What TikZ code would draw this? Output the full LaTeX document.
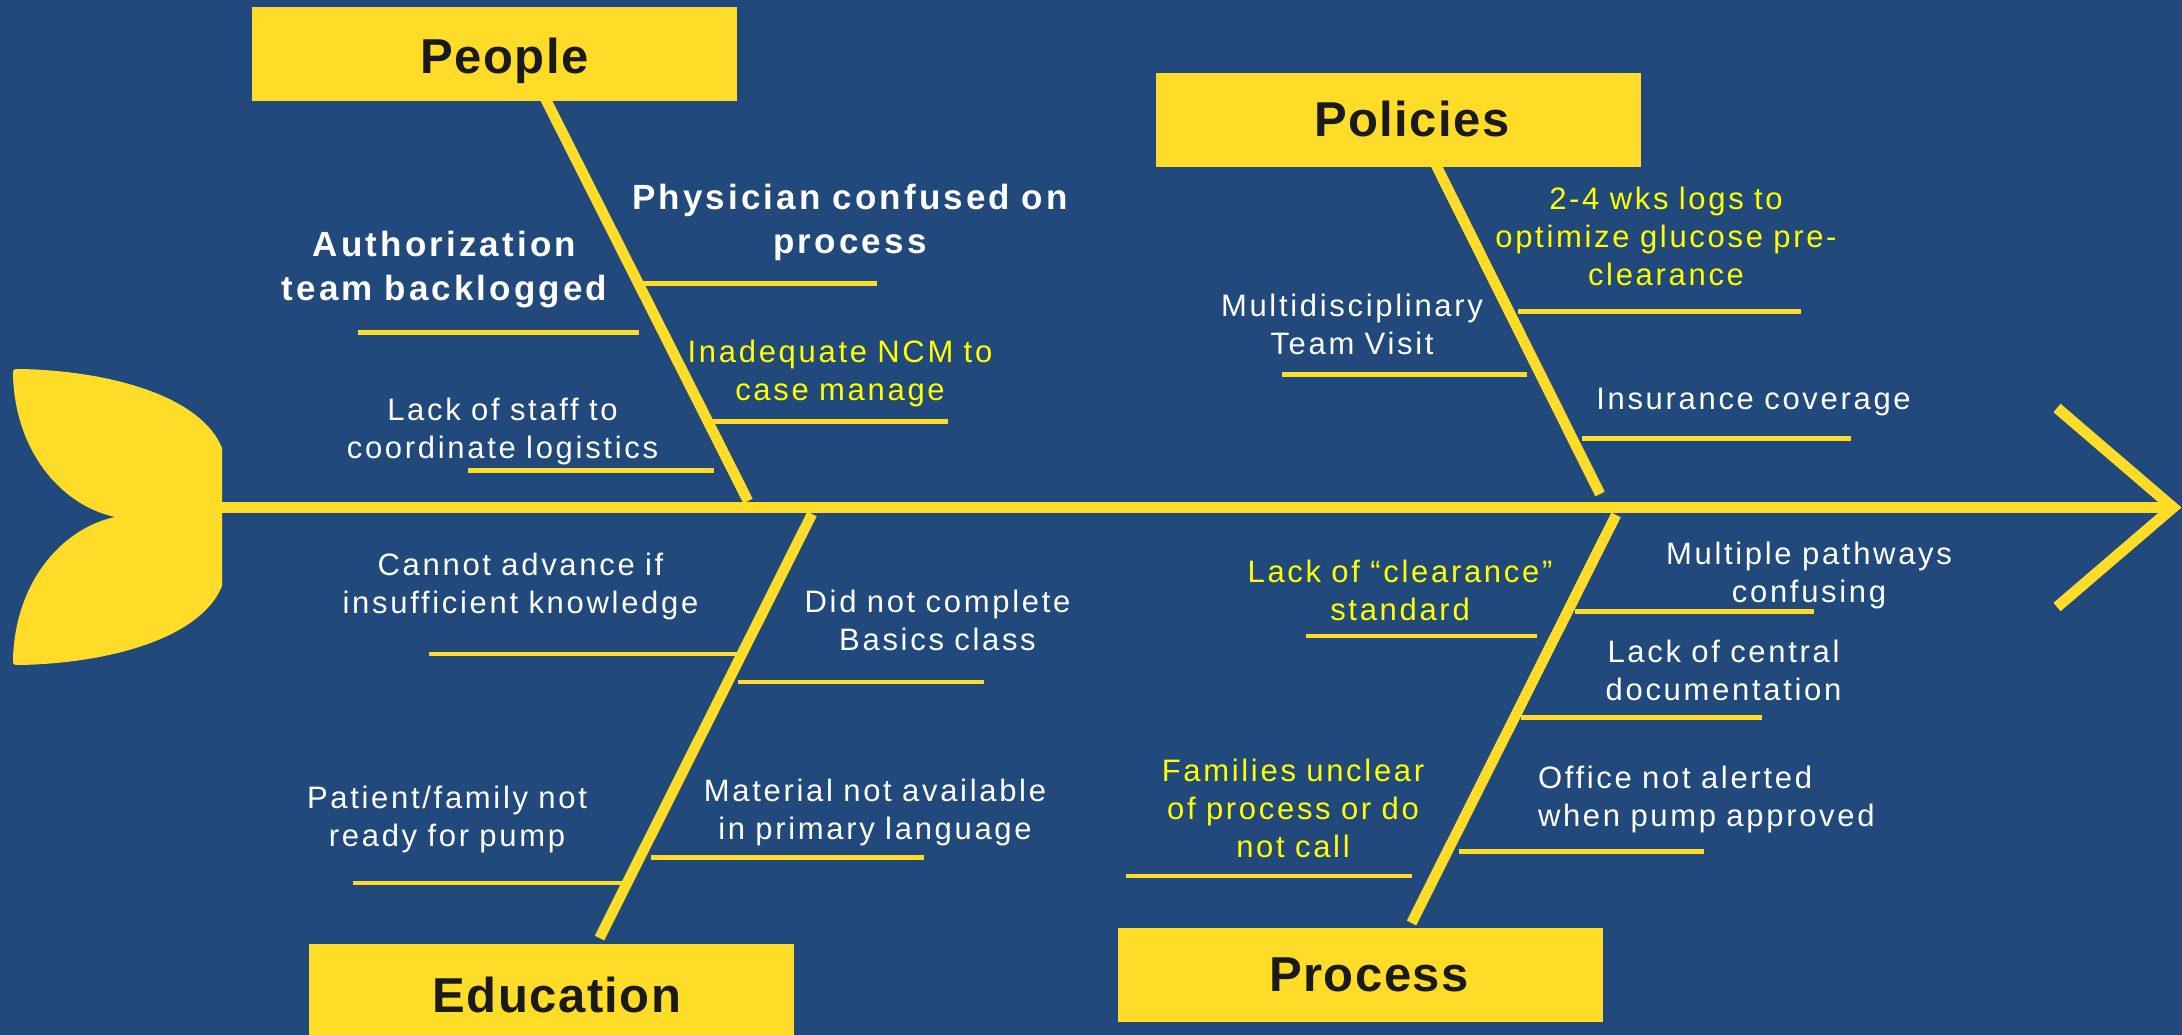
\documentclass[tikz,border=0pt]{standalone}
\usepackage{fontspec}
\setmainfont{Liberation Sans}
\newfontfamily\causefont[LetterSpace=8.7,Ligatures=NoCommon]{Liberation Sans}
\newfontfamily\keyfont[LetterSpace=9,Ligatures=NoCommon]{Liberation Sans}
\newfontfamily\headfont[LetterSpace=3]{Liberation Sans}
\definecolor{navy}{RGB}{33,73,123}
\definecolor{gold}{RGB}{255,220,40}
\definecolor{lemon}{RGB}{255,255,0}
\definecolor{ink}{RGB}{26,26,26}
\tikzset{
  spine/.style={draw=gold, line width=11pt},
  bone/.style={draw=gold, line width=10.5pt},
  twig/.style={draw=gold, line width=4.5pt},
  headbox/.style={fill=gold, draw=none, minimum width=485pt, minimum height=94pt,
    inner sep=0pt, anchor=north west},
  headtext/.style={font=\headfont\bfseries\fontsize{49}{58}\selectfont, text=ink,
    inner sep=0pt, anchor=base},
  cause/.style={font=\causefont\fontsize{31}{38}\selectfont, text=white,
    text width=560pt, align=center, inner sep=0pt, anchor=base},
  key/.style={cause, font=\keyfont\bfseries\fontsize{35}{44}\selectfont},
  hot/.style={cause, text=lemon},
}
\begin{document}
\begin{tikzpicture}[x=1pt, y=-1pt]
  % canvas
  \fill[navy] (0,0) rectangle (2182,1035);
  \useasboundingbox (0,0) rectangle (2182,1035);

  % ---- twigs (cause underlines) ----
  % People
  \draw[twig] (643,283.7) -- (877,283.7);
  \draw[twig] (358,332.7) -- (638.5,332.7);
  \draw[twig] (712,421.7) -- (948,421.7);
  \draw[twig] (468,470.7) -- (713.5,470.7);
  % Policies
  \draw[twig] (1517.6,311.7) -- (1801,311.7);
  \draw[twig] (1281.8,374.7) -- (1526.7,374.7);
  \draw[twig] (1581.8,438.7) -- (1850.7,438.7);
  % Education
  \draw[twig] (429,654) -- (739,654);
  \draw[twig] (738,682) -- (984,682);
  \draw[twig] (353,883) -- (621.8,883);
  \draw[twig] (651,857.7) -- (924,857.7);
  % Process
  \draw[twig] (1306,635.8) -- (1537,635.8);
  \draw[twig] (1574.5,611.6) -- (1814.3,611.6);
  \draw[twig] (1521.4,717.7) -- (1762.2,717.7);
  \draw[twig] (1125.5,875.8) -- (1412,875.8);
  \draw[twig] (1458.7,851.5) -- (1703.6,851.5);

  % ---- bones ----
  \coordinate (peopleRoot) at (544,96);
  \coordinate (peopleFoot) at (748,501);
  \coordinate (policyRoot) at (1434.5,162);
  \coordinate (policyFoot) at (1600,494);
  \coordinate (eduRoot) at (599.5,938);
  \coordinate (eduFoot) at (812,514);
  \coordinate (procRoot) at (1411.5,923);
  \coordinate (procFoot) at (1616,515);
  \draw[bone] (peopleRoot) -- (peopleFoot);
  \draw[bone] (policyRoot) -- (policyFoot);
  \draw[bone] (eduRoot) -- (eduFoot);
  \draw[bone] (procRoot) -- (procFoot);

  % ---- spine and head ----
  \coordinate (spineStart) at (222,507.5);
  \coordinate (spineTip) at (2173,507.5);
  \coordinate (armTop) at (2057,408);
  \coordinate (armBot) at (2057,607);
  \draw[spine] (spineStart) -- (spineTip);
  \draw[spine, line join=miter] (armTop) -- (spineTip) -- (armBot);

  % ---- tail ----
  \fill[gold] (115,517) .. controls (60,505) and (15,450) .. (13,375)
    .. controls (13,369) .. (20,369)
    .. controls (115,371) and (202,398) .. (222,448)
    -- (222,586)
    .. controls (202,636) and (115,663) .. (20,665)
    .. controls (13,665) .. (13,659)
    .. controls (15,584) and (60,529) .. (115,517) -- cycle;

  % ---- category boxes ----
  \node[headbox] (people) at (252,7) {};
  \node[headbox] (policies) at (1156,73) {};
  \node[headbox] (education) at (309,944) {};
  \node[headbox] (process) at (1118,928) {};
  \node[headtext] (peopleLbl) at (504.5,73.3) {People};
  \node[headtext] (policiesLbl) at (1412,136.7) {Policies};
  \node[headtext] (educationLbl) at (557,1012) {Education};
  \node[headtext] (processLbl) at (1369,991.5) {Process};

  % ---- causes: People ----
  \node[key] (physician) at (850,209.3) {Physician confused on\\process};
  \node[key] (authteam) at (444.5,256.7) {Authorization\\team backlogged};
  \node[hot] (ncm) at (840,362.7) {Inadequate NCM to\\case manage};
  \node[cause] (staff) at (502.5,420.7) {Lack of staff to\\coordinate logistics};

  % ---- causes: Policies ----
  \node[hot] (logs) at (1666,210) {2-4 wks logs to\\optimize glucose pre-\\clearance};
  \node[cause] (mdteam) at (1352,316.7) {Multidisciplinary\\Team Visit};
  \node[cause] (insurance) at (1753.5,409.3) {Insurance coverage};

  % ---- causes: Education ----
  \node[cause] (advance) at (520.5,575) {Cannot advance if\\insufficient knowledge};
  \node[cause] (basics) at (937.5,612.6) {Did not complete\\Basics class};
  \node[cause] (ready) at (447,808.9) {Patient/family not\\ready for pump};
  \node[cause] (material) at (875,801) {Material not available\\in primary language};

  % ---- causes: Process ----
  \node[hot] (clearance) at (1400,582.6) {Lack of “clearance”\\standard};
  \node[cause] (pathways) at (1809,564.2) {Multiple pathways\\confusing};
  \node[cause] (central) at (1723.5,662) {Lack of central\\documentation};
  \node[hot] (families) at (1293,781.6) {Families unclear\\of process or do\\not call};
  \node[cause, align=left, anchor=base west] (office) at (1537.8,788.4)
    {Office not alerted\\when pump approved};
\end{tikzpicture}
\end{document}
